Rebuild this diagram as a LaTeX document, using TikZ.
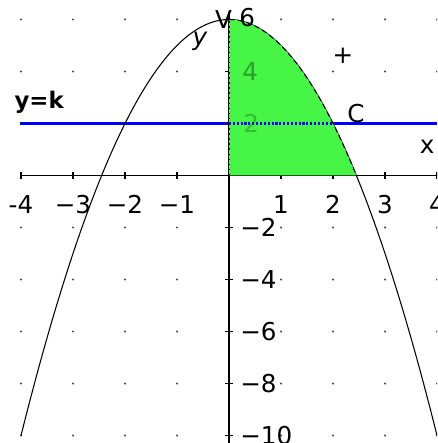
\documentclass[tikz,border=0pt]{standalone}
\usepackage{fontspec}
\setmainfont{DejaVu Sans}
\definecolor{regiongreen}{RGB}{70,245,70}
\definecolor{darkgreen}{RGB}{20,90,20}
\definecolor{kblue}{RGB}{0,0,255}
\begin{document}
\begin{tikzpicture}[x=1.04cm,y=0.52cm,
  lbl/.style={font=\fontsize{14}{14}\selectfont, inner sep=0pt},
  axisline/.style={line width=1pt, black},
  curve/.style={line width=0.6pt, black},
  kline/.style={line width=1.2pt, draw=kblue},
  griddot/.style={fill=black!70}]
\useasboundingbox (-4.404,-10.288) rectangle (4.0,6.75);
\clip (-4.404,-10.288) rectangle (4.0,6.75);
% grid dots
\foreach \gx in {-4,-3,-2,-1,1,2,3,4}{
  \foreach \gy in {6,4,-2,-4,-6,-8,-10}{
    \fill[griddot] (\gx,\gy) circle (0.7pt);
  }
}
% coordinates
\coordinate (xl) at (-4,0);
\coordinate (xr) at (4.2,0);
\coordinate (yt) at (0,6.3);
\coordinate (yb) at (0,-10.5);
\coordinate (o) at (0,0);
\coordinate (kl) at (-4.02,2);
\coordinate (kr) at (4.2,2);
\coordinate (k0) at (0,2);
\coordinate (k2) at (2,2);
% line y=k
\draw[kline] (kl) -- (kr);
% axes
\draw[axisline] (xl) -- (xr);
\draw[axisline] (yb) -- (yt);
\foreach \t in {-4,...,4}{ \draw[axisline] (\t,-0.13) -- (\t,0.13); }
\foreach \t in {-10,-8,...,6}{ \draw[axisline] (-0.07,\t) -- (0.07,\t); }
% parabola
\draw[curve] plot[domain=-4:4, samples=120] (\x,{6-\x*\x});
% region
\fill[regiongreen] (o) -- plot[domain=0:2.44949, samples=60] (\x,{6-\x*\x}) -- cycle;
\draw[black, line width=0.9pt, dotted] (o) -- (0,6);
\draw[curve, densely dashed] plot[domain=0:2.44949, samples=60] (\x,{6-\x*\x});
\draw[kline, densely dotted] (k0) -- (k2);
% x tick labels
\node[lbl] (lxm4) at (-4,-1.1) {-4};
\foreach \t/\s in {-3/−3,-2/−2,-1/−1,1/1,2/2,3/3,4/4}{
  \node[lbl] (lx\t) at (\t,-1.1) {\s};
}
% y tick labels
\foreach \t/\s in {-2/−2,-4/−4,-6/−6,-8/−8,-10/−10}{
  \node[lbl, anchor=west] (ly\t) at (0.21,\t) {\s};
}
\node[lbl, anchor=west, text=darkgreen, opacity=0.55] (ly4) at (0.25,4) {4};
\node[lbl, anchor=west, text=darkgreen, opacity=0.35] (ly2) at (0.27,2) {2};
\node[lbl] (ly6) at (0.35,6.06) {6};
\node[lbl] (ytip) at (-0.106,6.0) {V};
% other labels
\node[lbl, font=\fontsize{14}{14}\selectfont\itshape] (ylab) at (-0.56,5.17) {y};
\node[lbl] (xlab) at (3.81,1.10) {x};
\node[lbl] (clab) at (2.44,2.37) {C};
\node[lbl] (plus) at (2.19,4.6) {+};
\node[lbl, font=\fontsize{13}{13}\selectfont\bfseries] (klab) at (-3.65,2.83) {y=k};
\end{tikzpicture}
\end{document}
